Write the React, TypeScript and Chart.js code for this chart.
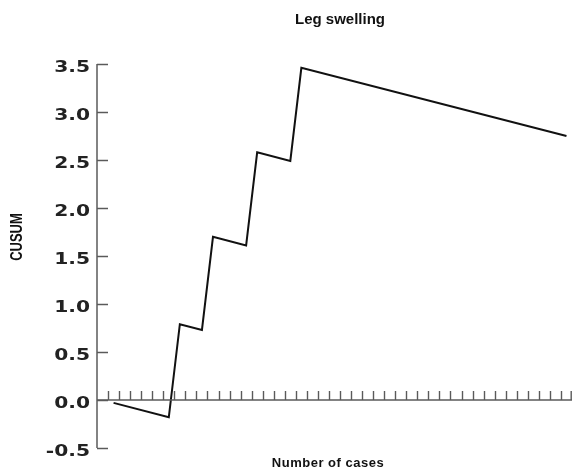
import React, { useEffect, useRef } from "react";
import { Chart, registerables } from "chart.js";

Chart.register(...registerables);

// ---- data ----
const caseNumbers = [1, 6, 7, 9, 10, 13, 14, 17, 18, 42];
const cusumValues = [-0.03, -0.18, 0.79, 0.73, 1.7, 1.61, 2.58, 2.49, 3.46, 2.75];

const yTickValues = [-0.5, 0, 0.5, 1, 1.5, 2, 2.5, 3, 3.5];
const yTickLabels = ["-0.5", "0.0", "0.5", "1.0", "1.5", "2.0", "2.5", "3.0", "3.5"];
// case boundary marks along the zero line
const xTickValues = Array.from({ length: 43 }, (_, i) => i + 0.5);

const chartTitle = "Leg swelling";
const xTitle = "Number of cases";
const yTitle = "CUSUM";

const axisColor = "#5a5a5a";

const axesPlugin = {
  id: "cusumAxes",
  afterDraw(chart: any) {
    const { ctx, chartArea, scales } = chart;
    const xs = scales.x;
    const ys = scales.y;
    const left = chartArea.left;
    const right = chartArea.right;
    const y0 = ys.getPixelForValue(0);
    ctx.save();
    ctx.strokeStyle = axisColor;
    ctx.lineWidth = 1.5;
    // y axis line
    ctx.beginPath();
    ctx.moveTo(left, ys.getPixelForValue(3.5));
    ctx.lineTo(left, ys.getPixelForValue(-0.5));
    ctx.stroke();
    // y ticks (inward)
    yTickValues.forEach((v) => {
      const py = Math.round(ys.getPixelForValue(v)) + 0.5;
      ctx.beginPath();
      ctx.moveTo(left, py);
      ctx.lineTo(left + 11, py);
      ctx.stroke();
    });
    // x axis line at zero
    ctx.beginPath();
    ctx.moveTo(left, y0);
    ctx.lineTo(right, y0);
    ctx.stroke();
    // x ticks (upward)
    ctx.lineWidth = 1.4;
    xTickValues.forEach((v) => {
      let px = Math.round(xs.getPixelForValue(v)) + 0.5;
      if (px > right - 0.5) px = right - 0.8;
      ctx.beginPath();
      ctx.moveTo(px, y0);
      ctx.lineTo(px, y0 - 9);
      ctx.stroke();
    });
    // y tick labels (wide bold face)
    ctx.fillStyle = "#222";
    ctx.font = "bold 15px 'DejaVu Sans'";
    ctx.textAlign = "right";
    ctx.textBaseline = "alphabetic";
    yTickLabels.forEach((lab, i) => {
      const py = ys.getPixelForValue(yTickValues[i]);
      ctx.save();
      ctx.translate(90, py + 7.5);
      ctx.scale(1.35, 1);
      ctx.fillText(lab, 0, 0);
      ctx.restore();
    });
    // title
    ctx.fillStyle = "#111";
    ctx.textAlign = "center";
    ctx.font = "bold 15px 'Liberation Sans', Arial, sans-serif";
    ctx.fillText(chartTitle, 340, 24);
    // x title
    try { (ctx as any).letterSpacing = "0.5px"; } catch (e) {}
    ctx.font = "bold 13px 'Liberation Sans', Arial, sans-serif";
    ctx.fillText(xTitle, 328, 467);
    try { (ctx as any).letterSpacing = "0px"; } catch (e) {}
    // y title (rotated)
    ctx.save();
    ctx.translate(21.5, 237);
    ctx.rotate(-Math.PI / 2);
    ctx.scale(1, 1.25);
    ctx.font = "bold 13px 'Liberation Sans', Arial, sans-serif";
    ctx.fillText(yTitle, 0, 0);
    ctx.restore();
    ctx.restore();
  },
};

export default function App() {
  const canvasRef = useRef<HTMLCanvasElement | null>(null);

  useEffect(() => {
    const canvas = canvasRef.current;
    if (!canvas) return;
    const chart = new Chart(canvas, {
      type: "line",
      data: {
        datasets: [
          {
            label: "CUSUM",
            data: caseNumbers.map((c, i) => ({ x: c, y: cusumValues[i] })),
            borderColor: "#111",
            borderWidth: 2,
            pointRadius: 0,
            tension: 0,
            fill: false,
          },
        ],
      },
      options: {
        animation: false,
        responsive: false,
        maintainAspectRatio: false,
        layout: { padding: { left: 97, right: 0, top: 64, bottom: 24 } },
        plugins: {
          legend: { display: false },
          title: { display: false },
          tooltip: { enabled: false },
        },
        scales: {
          x: { type: "linear", min: -0.5, max: 42.5, display: false },
          y: { type: "linear", min: -0.5, max: 3.5, display: false },
        },
      },
      plugins: [axesPlugin],
    });
    return () => chart.destroy();
  }, []);

  return (
    <div style={{ position: "fixed", left: 0, top: 0, width: 572, height: 472, background: "#fff" }}>
      <canvas ref={canvasRef} width={572} height={472} style={{ display: "block", width: 572, height: 472 }} />
    </div>
  );
}
